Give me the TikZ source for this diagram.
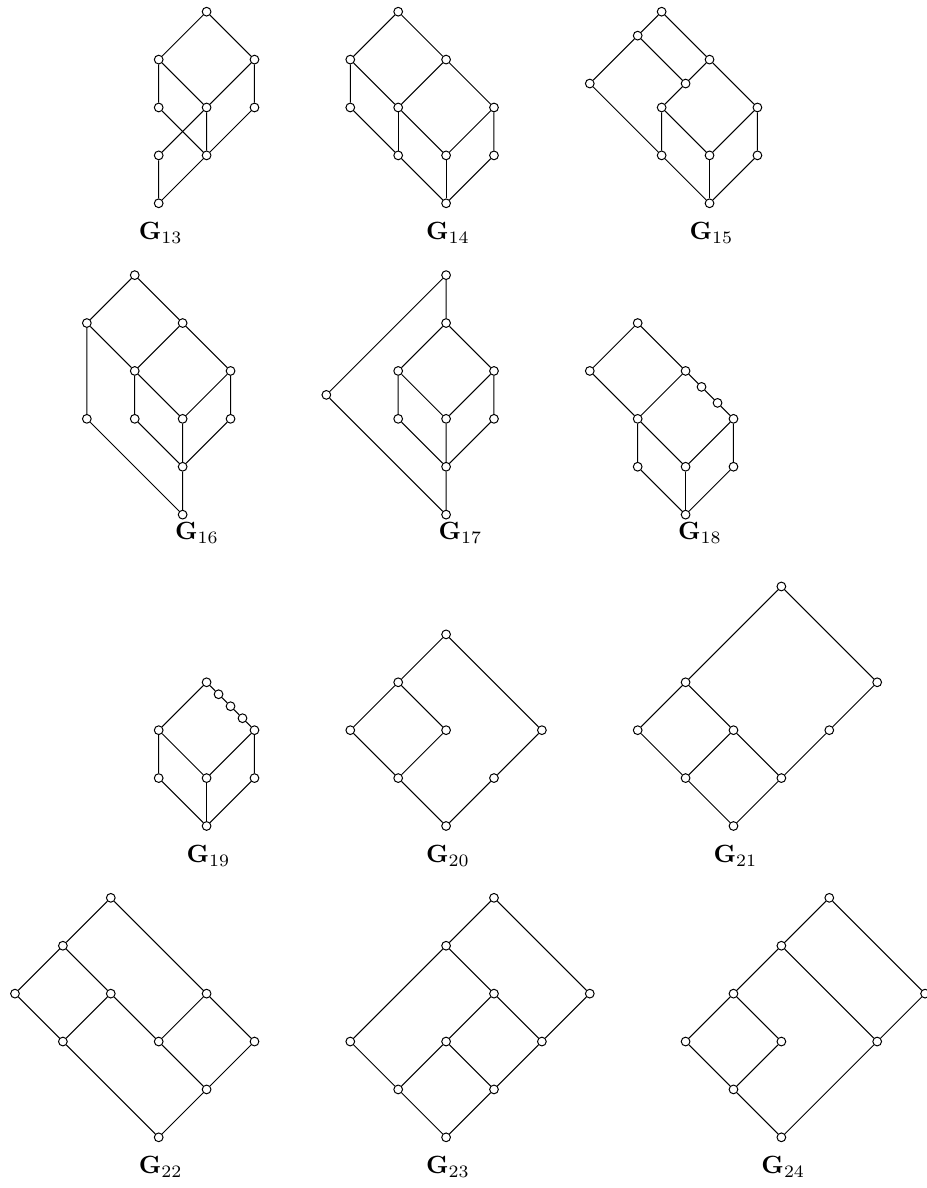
\documentclass[tikz,border=0pt]{standalone}
\usepackage{amsmath,amssymb}
\usepackage{tikz}

\begin{document}
\begin{tikzpicture}[
  x=0.675cm, y=0.675cm,
  vtx/.style={circle, draw, fill=white, inner sep=0pt, minimum size=3.5pt},
  capt/.style={anchor=base, inner sep=0pt}
]
\useasboundingbox (-0.313,0.244) rectangle (19.04,-24.558);

% G13 (x = col, y = -row)
\node[vtx] (g13-t) at (4,0) {};
\node[vtx] (g13-a) at (3,-1) {};
\node[vtx] (g13-b) at (5,-1) {};
\node[vtx] (g13-c) at (3,-2) {};
\node[vtx] (g13-d) at (4,-2) {};
\node[vtx] (g13-e) at (5,-2) {};
\node[vtx] (g13-f) at (3,-3) {};
\node[vtx] (g13-g) at (4,-3) {};
\node[vtx] (g13-z) at (3,-4) {};
\node[capt] (lab13) at (3.04,-4.76) {$\mathbf{G}_{13}$};
\draw (g13-a) -- (g13-t) -- (g13-b) -- (g13-e) -- (g13-g) -- (g13-z) -- (g13-f) -- (g13-d) -- (g13-b);
\draw (g13-a) -- (g13-c) -- (g13-g) -- (g13-d) -- (g13-a);

% G14
\node[vtx] (g14-t) at (8,0) {};
\node[vtx] (g14-a) at (7,-1) {};
\node[vtx] (g14-b) at (9,-1) {};
\node[vtx] (g14-c) at (7,-2) {};
\node[vtx] (g14-d) at (8,-2) {};
\node[vtx] (g14-e) at (10,-2) {};
\node[vtx] (g14-f) at (8,-3) {};
\node[vtx] (g14-g) at (9,-3) {};
\node[vtx] (g14-h) at (10,-3) {};
\node[vtx] (g14-z) at (9,-4) {};
\node[capt] (lab14) at (9.04,-4.76) {$\mathbf{G}_{14}$};
\draw (g14-a) -- (g14-t) -- (g14-b) -- (g14-e) -- (g14-h) -- (g14-z) -- (g14-f) -- (g14-c) -- (g14-a);
\draw (g14-a) -- (g14-d) -- (g14-b);
\draw (g14-d) -- (g14-f);
\draw (g14-d) -- (g14-g) -- (g14-e);
\draw (g14-g) -- (g14-z);

% G15
\node[vtx] (g15-t) at (13.5,0) {};
\node[vtx] (g15-a) at (13,-0.5) {};
\node[vtx] (g15-b) at (14.5,-1) {};
\node[vtx] (g15-c) at (12,-1.5) {};
\node[vtx] (g15-d) at (14,-1.5) {};
\node[vtx] (g15-e) at (13.5,-2) {};
\node[vtx] (g15-f) at (15.5,-2) {};
\node[vtx] (g15-g) at (13.5,-3) {};
\node[vtx] (g15-h) at (14.5,-3) {};
\node[vtx] (g15-i) at (15.5,-3) {};
\node[vtx] (g15-z) at (14.5,-4) {};
\node[capt] (lab15) at (14.54,-4.76) {$\mathbf{G}_{15}$};
\draw (g15-c) -- (g15-a) -- (g15-t) -- (g15-b) -- (g15-f) -- (g15-i) -- (g15-z) -- (g15-g) -- (g15-c);
\draw (g15-a) -- (g15-d) -- (g15-b);
\draw (g15-d) -- (g15-e) -- (g15-g);
\draw (g15-e) -- (g15-h) -- (g15-f);
\draw (g15-h) -- (g15-z);

% G16
\node[vtx] (g16-t) at (2.5,-5.5) {};
\node[vtx] (g16-a) at (1.5,-6.5) {};
\node[vtx] (g16-b) at (3.5,-6.5) {};
\node[vtx] (g16-c) at (2.5,-7.5) {};
\node[vtx] (g16-d) at (4.5,-7.5) {};
\node[vtx] (g16-e) at (1.5,-8.5) {};
\node[vtx] (g16-f) at (2.5,-8.5) {};
\node[vtx] (g16-g) at (3.5,-8.5) {};
\node[vtx] (g16-h) at (4.5,-8.5) {};
\node[vtx] (g16-i) at (3.5,-9.5) {};
\node[vtx] (g16-z) at (3.5,-10.5) {};
\node[capt] (lab16) at (3.8,-11.02) {$\mathbf{G}_{16}$};
\draw (g16-z) -- (g16-e) -- (g16-a) -- (g16-t) -- (g16-b) -- (g16-d) -- (g16-h) -- (g16-i) -- (g16-z);
\draw (g16-a) -- (g16-c) -- (g16-b);
\draw (g16-c) -- (g16-f) -- (g16-i) -- (g16-g) -- (g16-c);
\draw (g16-d) -- (g16-g);

% G17
\node[vtx] (g17-t) at (9,-5.5) {};
\node[vtx] (g17-l) at (6.5,-8) {};
\node[vtx] (g17-a) at (9,-6.5) {};
\node[vtx] (g17-b) at (8,-7.5) {};
\node[vtx] (g17-c) at (10,-7.5) {};
\node[vtx] (g17-d) at (8,-8.5) {};
\node[vtx] (g17-e) at (9,-8.5) {};
\node[vtx] (g17-f) at (10,-8.5) {};
\node[vtx] (g17-g) at (9,-9.5) {};
\node[vtx] (g17-z) at (9,-10.5) {};
\node[capt] (lab17) at (9.3,-11.02) {$\mathbf{G}_{17}$};
\draw (g17-z) -- (g17-l) -- (g17-t) -- (g17-a) -- (g17-b) -- (g17-d) -- (g17-g) -- (g17-z);
\draw (g17-a) -- (g17-c) -- (g17-f) -- (g17-g) -- (g17-e) -- (g17-b);
\draw (g17-c) -- (g17-e);

% G18
\node[vtx] (g18-t) at (13,-6.5) {};
\node[vtx] (g18-a) at (12,-7.5) {};
\node[vtx] (g18-b) at (14,-7.5) {};
\node[vtx] (g18-p) at (14.333,-7.833) {};
\node[vtx] (g18-q) at (14.667,-8.167) {};
\node[vtx] (g18-c) at (13,-8.5) {};
\node[vtx] (g18-d) at (15,-8.5) {};
\node[vtx] (g18-e) at (13,-9.5) {};
\node[vtx] (g18-f) at (14,-9.5) {};
\node[vtx] (g18-g) at (15,-9.5) {};
\node[vtx] (g18-z) at (14,-10.5) {};
\node[capt] (lab18) at (14.3,-11.02) {$\mathbf{G}_{18}$};
\draw (g18-a) -- (g18-t) -- (g18-b) -- (g18-p) -- (g18-q) -- (g18-d) -- (g18-g) -- (g18-z) -- (g18-e) -- (g18-c) -- (g18-a);
\draw (g18-b) -- (g18-c) -- (g18-f) -- (g18-d);
\draw (g18-f) -- (g18-z);

% G19
\node[vtx] (g19-t) at (4,-14) {};
\node[vtx] (g19-p) at (4.25,-14.25) {};
\node[vtx] (g19-q) at (4.5,-14.5) {};
\node[vtx] (g19-r) at (4.75,-14.75) {};
\node[vtx] (g19-a) at (3,-15) {};
\node[vtx] (g19-b) at (5,-15) {};
\node[vtx] (g19-c) at (3,-16) {};
\node[vtx] (g19-d) at (4,-16) {};
\node[vtx] (g19-e) at (5,-16) {};
\node[vtx] (g19-z) at (4,-17) {};
\node[capt] (lab19) at (4.04,-17.76) {$\mathbf{G}_{19}$};
\draw (g19-a) -- (g19-t) -- (g19-p) -- (g19-q) -- (g19-r) -- (g19-b) -- (g19-e) -- (g19-z) -- (g19-c) -- (g19-a);
\draw (g19-a) -- (g19-d) -- (g19-b);
\draw (g19-d) -- (g19-z);

% G20
\node[vtx] (g20-t) at (9,-13) {};
\node[vtx] (g20-a) at (8,-14) {};
\node[vtx] (g20-b) at (7,-15) {};
\node[vtx] (g20-c) at (9,-15) {};
\node[vtx] (g20-d) at (11,-15) {};
\node[vtx] (g20-e) at (8,-16) {};
\node[vtx] (g20-f) at (10,-16) {};
\node[vtx] (g20-z) at (9,-17) {};
\node[capt] (lab20) at (9.04,-17.76) {$\mathbf{G}_{20}$};
\draw (g20-a) -- (g20-t) -- (g20-d) -- (g20-f) -- (g20-z) -- (g20-e) -- (g20-b) -- (g20-a);
\draw (g20-a) -- (g20-c) -- (g20-e);

% G21
\node[vtx] (g21-t) at (16,-12) {};
\node[vtx] (g21-a) at (14,-14) {};
\node[vtx] (g21-b) at (18,-14) {};
\node[vtx] (g21-c) at (13,-15) {};
\node[vtx] (g21-d) at (15,-15) {};
\node[vtx] (g21-e) at (17,-15) {};
\node[vtx] (g21-f) at (14,-16) {};
\node[vtx] (g21-g) at (16,-16) {};
\node[vtx] (g21-z) at (15,-17) {};
\node[capt] (lab21) at (15.04,-17.76) {$\mathbf{G}_{21}$};
\draw (g21-a) -- (g21-t) -- (g21-b) -- (g21-e) -- (g21-g) -- (g21-z) -- (g21-f) -- (g21-c) -- (g21-a);
\draw (g21-a) -- (g21-d) -- (g21-f);
\draw (g21-d) -- (g21-g);

% G22
\node[vtx] (g22-t) at (2,-18.5) {};
\node[vtx] (g22-a) at (1,-19.5) {};
\node[vtx] (g22-b) at (0,-20.5) {};
\node[vtx] (g22-c) at (2,-20.5) {};
\node[vtx] (g22-d) at (4,-20.5) {};
\node[vtx] (g22-e) at (1,-21.5) {};
\node[vtx] (g22-f) at (3,-21.5) {};
\node[vtx] (g22-g) at (5,-21.5) {};
\node[vtx] (g22-h) at (4,-22.5) {};
\node[vtx] (g22-z) at (3,-23.5) {};
\node[capt] (lab22) at (3.04,-24.26) {$\mathbf{G}_{22}$};
\draw (g22-a) -- (g22-t) -- (g22-d) -- (g22-g) -- (g22-h) -- (g22-z) -- (g22-e) -- (g22-b) -- (g22-a);
\draw (g22-a) -- (g22-c) -- (g22-e);
\draw (g22-c) -- (g22-f) -- (g22-d);
\draw (g22-f) -- (g22-h);

% G23
\node[vtx] (g23-t) at (10,-18.5) {};
\node[vtx] (g23-a) at (9,-19.5) {};
\node[vtx] (g23-b) at (10,-20.5) {};
\node[vtx] (g23-c) at (12,-20.5) {};
\node[vtx] (g23-d) at (7,-21.5) {};
\node[vtx] (g23-e) at (9,-21.5) {};
\node[vtx] (g23-f) at (11,-21.5) {};
\node[vtx] (g23-g) at (8,-22.5) {};
\node[vtx] (g23-h) at (10,-22.5) {};
\node[vtx] (g23-z) at (9,-23.5) {};
\node[capt] (lab23) at (9.04,-24.26) {$\mathbf{G}_{23}$};
\draw (g23-a) -- (g23-t) -- (g23-c) -- (g23-f) -- (g23-h) -- (g23-z) -- (g23-g) -- (g23-d) -- (g23-a);
\draw (g23-a) -- (g23-b) -- (g23-e) -- (g23-g);
\draw (g23-b) -- (g23-f);
\draw (g23-e) -- (g23-h);

% G24
\node[vtx] (g24-t) at (17,-18.5) {};
\node[vtx] (g24-a) at (16,-19.5) {};
\node[vtx] (g24-b) at (15,-20.5) {};
\node[vtx] (g24-c) at (19,-20.5) {};
\node[vtx] (g24-d) at (14,-21.5) {};
\node[vtx] (g24-e) at (16,-21.5) {};
\node[vtx] (g24-f) at (18,-21.5) {};
\node[vtx] (g24-g) at (15,-22.5) {};
\node[vtx] (g24-z) at (16,-23.5) {};
\node[capt] (lab24) at (16.04,-24.26) {$\mathbf{G}_{24}$};
\draw (g24-a) -- (g24-t) -- (g24-c) -- (g24-f) -- (g24-z) -- (g24-g) -- (g24-d) -- (g24-b) -- (g24-a);
\draw (g24-a) -- (g24-f);
\draw (g24-b) -- (g24-e) -- (g24-g);
\end{tikzpicture}
\end{document}
